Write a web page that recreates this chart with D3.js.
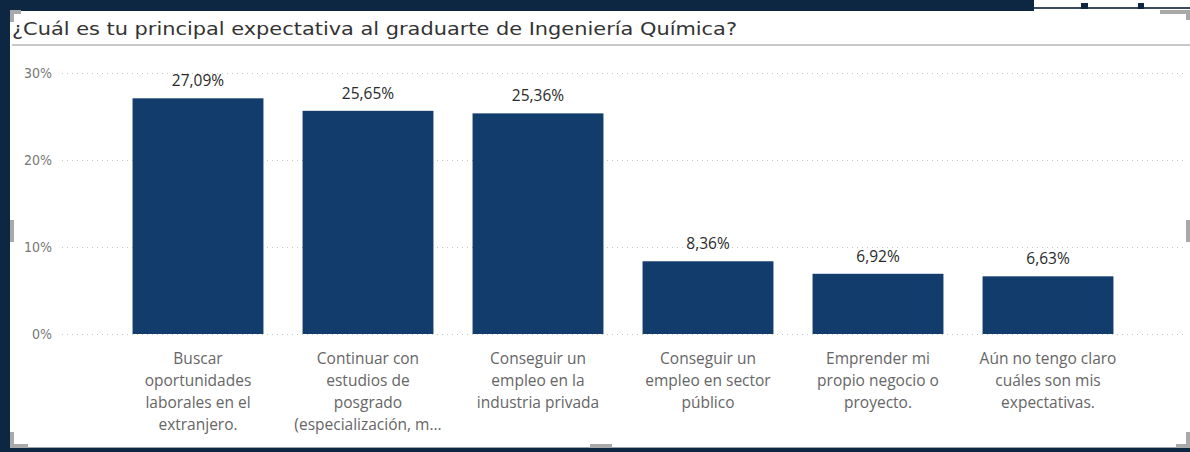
<!DOCTYPE html>
<html><head><meta charset="utf-8">
<script src="https://cdn.jsdelivr.net/npm/d3@7"></script>
<style>html,body{margin:0;padding:0;background:#fff;overflow:hidden}</style>
</head><body>
<svg id="c" width="1190" height="452"></svg>
<script>
const title = "¿Cuál es tu principal expectativa al graduarte de Ingeniería Química?";
const categories = [
  ["Buscar","oportunidades","laborales en el","extranjero."],
  ["Continuar con","estudios de","posgrado","(especialización, m..."],
  ["Conseguir un","empleo en la","industria privada"],
  ["Conseguir un","empleo en sector","público"],
  ["Emprender mi","propio negocio o","proyecto."],
  ["Aún no tengo claro","cuáles son mis","expectativas."]
];
const values = [27.09, 25.65, 25.36, 8.36, 6.92, 6.63];
const yTicks = [0, 10, 20, 30];

const svg = d3.select("#c");
const W = 1190, H = 452;
const dark = "#0d2641";

// background frame
svg.append("rect").attr("x",0).attr("y",0).attr("width",W).attr("height",H).attr("fill","#fff");
svg.append("rect").attr("x",0).attr("y",0).attr("width",1034).attr("height",11).attr("fill",dark);
svg.append("rect").attr("x",1034).attr("y",7).attr("width",156).attr("height",2).attr("fill","#3a4a5c");
svg.append("rect").attr("x",1081).attr("y",3).attr("width",7).attr("height",6).attr("fill",dark);
svg.append("rect").attr("x",1138).attr("y",3).attr("width",6).attr("height",6).attr("fill",dark);
svg.append("rect").attr("x",0).attr("y",0).attr("width",10).attr("height",H).attr("fill",dark);
svg.append("rect").attr("x",0).attr("y",448).attr("width",W).attr("height",4).attr("fill",dark);
svg.append("line").attr("x1",10).attr("x2",W).attr("y1",447.5).attr("y2",447.5).attr("stroke","#9aa3ad").attr("stroke-width",1);

// title
svg.append("text").attr("x",12).attr("y",35).text(title)
  .attr("font-family","'DejaVu Sans Condensed','DejaVu Sans',sans-serif").attr("font-size",18)
  .attr("fill","#333").attr("textLength",725).attr("lengthAdjust","spacingAndGlyphs");
svg.append("line").attr("x1",12).attr("x2",W).attr("y1",45).attr("y2",45).attr("stroke","#c8c8c8").attr("stroke-width",2);

// scales
const y = d3.scaleLinear().domain([0,30]).range([334,73]);
const x = d3.scaleBand().domain(d3.range(categories.length)).range([113,1133]).paddingInner(0.23).paddingOuter(0.115);

// gridlines
const g = svg.append("g");
g.selectAll("line.grid").data(yTicks).join("line")
  .attr("x1",62).attr("x2",1186).attr("y1",d=>y(d)+0.5).attr("y2",d=>y(d)+0.5)
  .attr("stroke","#c4c4c4").attr("stroke-width",1).attr("stroke-dasharray","1,4");

// y axis labels
const yAxis = d3.axisLeft(y).tickValues(yTicks).tickFormat(d=>d+"%").tickSize(0).tickPadding(0);
const ya = svg.append("g").attr("transform","translate(52,0)").call(yAxis);
ya.select(".domain").remove();
ya.selectAll("text").attr("font-family","'DejaVu Sans Condensed',sans-serif").attr("font-size",14).attr("fill","#777");

// bars
svg.selectAll("rect.bar").data(values).join("rect").attr("class","bar")
  .attr("x",(d,i)=>x(i)).attr("width",x.bandwidth())
  .attr("y",d=>y(d)).attr("height",d=>y(0)-y(d))
  .attr("fill","#123c6b");

// value labels
svg.selectAll("text.val").data(values).join("text").attr("class","val")
  .attr("x",(d,i)=>x(i)+x.bandwidth()/2).attr("y",d=>y(d)-12)
  .attr("text-anchor","middle").attr("font-family","'Open Sans',sans-serif").attr("font-size",15.5)
  .attr("fill","#2a2a2a").text(d=>d.toFixed(2).replace(".",",")+"%");

// category labels
const cl = svg.selectAll("text.cat").data(categories).join("text").attr("class","cat")
  .attr("x",(d,i)=>x(i)+x.bandwidth()/2).attr("y",364)
  .attr("text-anchor","middle").attr("font-family","'Open Sans',sans-serif").attr("font-size",15.5)
  .attr("fill","#666");
cl.selectAll("tspan").data(d=>d).join("tspan")
  .attr("x",function(){return this.parentNode.getAttribute("x");})
  .attr("dy",(d,i)=>i===0?0:22).text(d=>d);

// resize handles
const hg = "#a9a9a9";
svg.append("path").attr("d","M10,10 H21 V14 H14 V22 H10 Z").attr("fill",hg);
svg.append("path").attr("d","M1160,10 H1190 V20 H1186 V14 H1160 Z").attr("fill",hg);
svg.append("path").attr("d","M10,432 H14 V444 H28 V448 H10 Z").attr("fill",hg);
svg.append("path").attr("d","M1186,432 H1190 V448 H1176 V444 H1186 Z").attr("fill",hg);
svg.append("rect").attr("x",10).attr("y",220).attr("width",4).attr("height",22).attr("fill",hg);
svg.append("rect").attr("x",1186).attr("y",220).attr("width",4).attr("height",22).attr("fill",hg);
svg.append("rect").attr("x",590).attr("y",444).attr("width",22).attr("height",4).attr("fill",hg);
</script>
</body></html>
